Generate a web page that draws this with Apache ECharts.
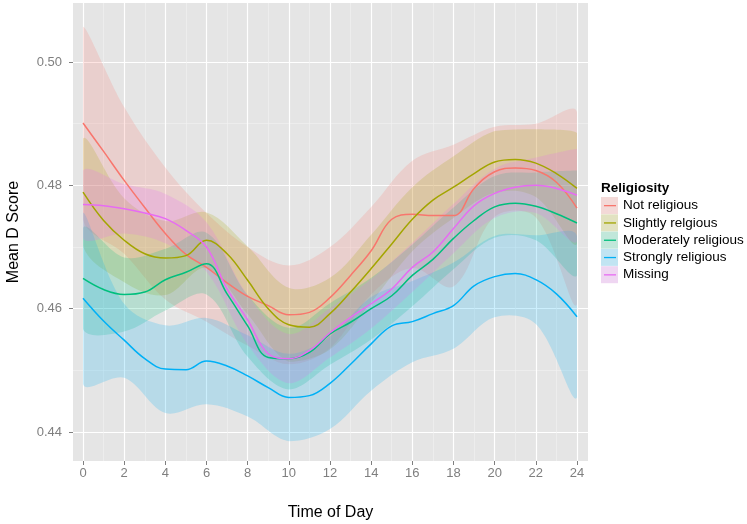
<!DOCTYPE html>
<html><head><meta charset="utf-8">
<script src="https://cdn.jsdelivr.net/npm/echarts@6/dist/echarts.min.js"></script>
<style>html,body{margin:0;padding:0;background:#fff}#c{width:747px;height:524px}</style>
</head><body><div id="c"></div>
<script>
// ---- data ----
const hours = [0,1,2,3,4,5,6,7,8,9,10,11,12,13,14,15,16,17,18,19,20,21,22,23,24];
const notReligious      = [0.4901,0.4855,0.4808,0.4764,0.4722,0.4688,0.4667,0.4642,0.4620,0.4605,0.4590,0.4594,0.4618,0.4654,0.4694,0.4745,0.4753,0.4751,0.4751,0.4795,0.4822,0.4828,0.4824,0.4805,0.4763];
const slightlyReligious = [0.4789,0.4743,0.4711,0.4689,0.4682,0.4686,0.4711,0.4689,0.4646,0.4600,0.4574,0.4570,0.4592,0.4627,0.4665,0.4705,0.4745,0.4776,0.4797,0.4819,0.4838,0.4842,0.4836,0.4819,0.4795];
const moderatelyReligious=[0.4649,0.4631,0.4623,0.4627,0.4647,0.4659,0.4673,0.4624,0.4572,0.4521,0.4519,0.4529,0.4559,0.4578,0.4600,0.4621,0.4654,0.4680,0.4714,0.4743,0.4765,0.4771,0.4766,0.4754,0.4739];
const stronglyReligious = [0.4617,0.4580,0.4549,0.4519,0.4502,0.4501,0.4515,0.4507,0.4491,0.4472,0.4456,0.4459,0.4479,0.4510,0.4543,0.4572,0.4579,0.4592,0.4605,0.4637,0.4652,0.4657,0.4647,0.4624,0.4587];
const missing           = [0.4769,0.4767,0.4762,0.4755,0.4746,0.4727,0.4700,0.4632,0.4582,0.4527,0.4519,0.4532,0.4561,0.4586,0.4608,0.4632,0.4667,0.4692,0.4730,0.4767,0.4787,0.4797,0.4800,0.4795,0.4784];

const bandHours = [0,2,4,6,8,10,12,14,16,18,20,22,24];
const notReligiousLow   = [0.4745,0.4689,0.4615,0.4579,0.4540,0.4510,0.4536,0.4623,0.4666,0.4636,0.4749,0.4748,0.4607];
const notReligiousHigh  = [0.5057,0.4927,0.4829,0.4755,0.4700,0.4670,0.4700,0.4765,0.4840,0.4866,0.4895,0.4900,0.4919];
const slightlyLow       = [0.4702,0.4643,0.4622,0.4666,0.4591,0.4514,0.4534,0.4610,0.4693,0.4747,0.4788,0.4781,0.4705];
const slightlyHigh      = [0.4876,0.4779,0.4742,0.4756,0.4701,0.4634,0.4650,0.4720,0.4797,0.4847,0.4888,0.4891,0.4885];
const moderatelyLow     = [0.4567,0.4563,0.4597,0.4623,0.4522,0.4469,0.4509,0.4550,0.4604,0.4664,0.4715,0.4711,0.4654];
const moderatelyHigh    = [0.4731,0.4683,0.4697,0.4723,0.4622,0.4569,0.4609,0.4650,0.4704,0.4764,0.4815,0.4821,0.4824];
const stronglyLow       = [0.4478,0.4488,0.4431,0.4445,0.4425,0.4385,0.4405,0.4467,0.4513,0.4535,0.4586,0.4575,0.4456];
const stronglyHigh      = [0.4756,0.4608,0.4573,0.4585,0.4557,0.4527,0.4555,0.4619,0.4645,0.4675,0.4718,0.4719,0.4718];
const missingLow        = [0.4714,0.4722,0.4706,0.4660,0.4542,0.4479,0.4521,0.4568,0.4627,0.4690,0.4747,0.4755,0.4709];
const missingHigh       = [0.4824,0.4802,0.4786,0.4740,0.4622,0.4559,0.4601,0.4648,0.4707,0.4770,0.4827,0.4845,0.4859];

const groupNames = ['Not religious','Slightly relgious','Moderately religious','Strongly religious','Missing'];
const xTicks = [0,2,4,6,8,10,12,14,16,18,20,22,24];
const xMinorTicks = [1,3,5,7,9,11,13,15,17,19,21,23];
const yTicks = [0.44,0.46,0.48,0.50];
const yMinorTicks = [0.45,0.47,0.49];
const legendTitle = 'Religiosity';
const xTitle = 'Time of Day';
const yTitle = 'Mean D Score';

// ---- styling ----
const colors = ['#F8766D','#A3A500','#00BF7D','#00B0F6','#E76BF3'];
const means = [notReligious, slightlyReligious, moderatelyReligious, stronglyReligious, missing];
const lows = [notReligiousLow, slightlyLow, moderatelyLow, stronglyLow, missingLow];
const highs = [notReligiousHigh, slightlyHigh, moderatelyHigh, stronglyHigh, missingHigh];
const FONT = "'Liberation Sans', Arial, sans-serif";

const series = [];
groupNames.forEach((name, i) => {
  series.push({
    name: name + ' band', type: 'custom', silent: true, z: 1, clip: true,
    data: bandHours.map((h, k) => [h, lows[i][k], highs[i][k]]),
    renderItem: function (params, api) {
      if (params.dataIndex !== 0) return null;
      const top = bandHours.map((h, k) => api.coord([h, highs[i][k]]));
      const bottom = bandHours.map((h, k) => api.coord([h, lows[i][k]])).reverse();
      const pts = top.concat(bottom);
      let mn = [Infinity, Infinity], mx = [-Infinity, -Infinity];
      pts.forEach(p => { mn = [Math.min(mn[0], p[0]), Math.min(mn[1], p[1])]; mx = [Math.max(mx[0], p[0]), Math.max(mx[1], p[1])]; });
      return {
        type: 'polygon',
        shape: { points: pts, smooth: 0.35, smoothConstraint: [mn, mx] },
        style: { fill: colors[i], opacity: 0.2 }
      };
    }
  });
});
groupNames.forEach((name, i) => {
  series.push({
    name: name, type: 'line', smooth: 0.4, showSymbol: false, symbol: 'none', z: 3,
    color: colors[i],
    lineStyle: { color: colors[i], width: 1.5 },
    itemStyle: { color: colors[i] },
    data: hours.map((h, k) => [h, means[i][k]])
  });
});

const keyTop = 197, keyStep = 17.3;
const graphics = [];
groupNames.forEach((n, i) => {
  graphics.push({ type: 'rect', left: 601, top: keyTop + keyStep * i, z: 1,
    shape: { width: 17, height: 17 }, style: { fill: '#F2F2F2' } });
  graphics.push({ type: 'rect', left: 601, top: keyTop + keyStep * i, z: 2,
    shape: { width: 17, height: 17 }, style: { fill: colors[i], opacity: 0.2 } });
});

const chart = echarts.init(document.getElementById('c'), null, { renderer: 'canvas' });
chart.setOption({
  animation: false,
  backgroundColor: '#ffffff',
  textStyle: { fontFamily: FONT },
  title: { text: legendTitle, left: 601, top: 181, padding: 0,
    textStyle: { fontFamily: FONT, fontSize: 13.5, fontWeight: 'bold', color: '#000' } },
  grid: { left: 73, right: 159, top: 3, bottom: 63, show: true, outerBoundsMode: 'none',
    backgroundColor: '#E5E5E5', borderWidth: 0, containLabel: false },
  graphic: graphics,
  legend: {
    orient: 'vertical', left: 601, top: keyTop, padding: 0, z: 5,
    itemWidth: 17, itemHeight: 17, itemGap: 0.3, selectedMode: false,
    icon: 'path://M0,0 M3,8 L15,8 L15,9.3 L3,9.3 Z M17,17',
    textStyle: { fontFamily: FONT, fontSize: 13.5, color: '#000', lineHeight: 17 },
    data: groupNames
  },
  xAxis: [{
    type: 'value', min: -0.486, max: 24.535,
    name: xTitle, nameLocation: 'middle', nameGap: 44,
    nameTextStyle: { fontFamily: FONT, fontSize: 16, color: '#000' },
    axisLine: { show: false, onZero: false },
    axisTick: { show: true, length: 4, customValues: xTicks, lineStyle: { color: '#7F7F7F' } },
    axisLabel: { customValues: xTicks, margin: 6, fontSize: 13, color: '#7F7F7F', fontFamily: FONT },
    splitLine: { show: true, lineStyle: { color: '#FFFFFF', width: 1.2 } }
  }, {
    type: 'value', min: -0.486, max: 24.535, position: 'bottom',
    axisLine: { show: false, onZero: false },
    axisTick: { show: false, customValues: xMinorTicks },
    axisLabel: { show: false, customValues: xMinorTicks },
    splitLine: { show: true, lineStyle: { color: '#F2F2F2', width: 0.6 } }
  }],
  yAxis: [{
    type: 'value', min: 0.4353, max: 0.50957,
    name: yTitle, nameLocation: 'middle', nameGap: 51,
    nameTextStyle: { fontFamily: FONT, fontSize: 16, color: '#000' },
    axisLine: { show: false, onZero: false },
    axisTick: { show: true, length: 4, customValues: yTicks, lineStyle: { color: '#7F7F7F' } },
    axisLabel: { customValues: yTicks, margin: 11, fontSize: 13, color: '#7F7F7F', fontFamily: FONT,
      formatter: v => v.toFixed(2) },
    splitLine: { show: true, lineStyle: { color: '#FFFFFF', width: 1.2 } }
  }, {
    type: 'value', min: 0.4353, max: 0.50957, position: 'left',
    axisLine: { show: false, onZero: false },
    axisTick: { show: false, customValues: yMinorTicks },
    axisLabel: { show: false, customValues: yMinorTicks },
    splitLine: { show: true, lineStyle: { color: '#F2F2F2', width: 0.6 } }
  }],
  series: series
});
</script></body></html>
